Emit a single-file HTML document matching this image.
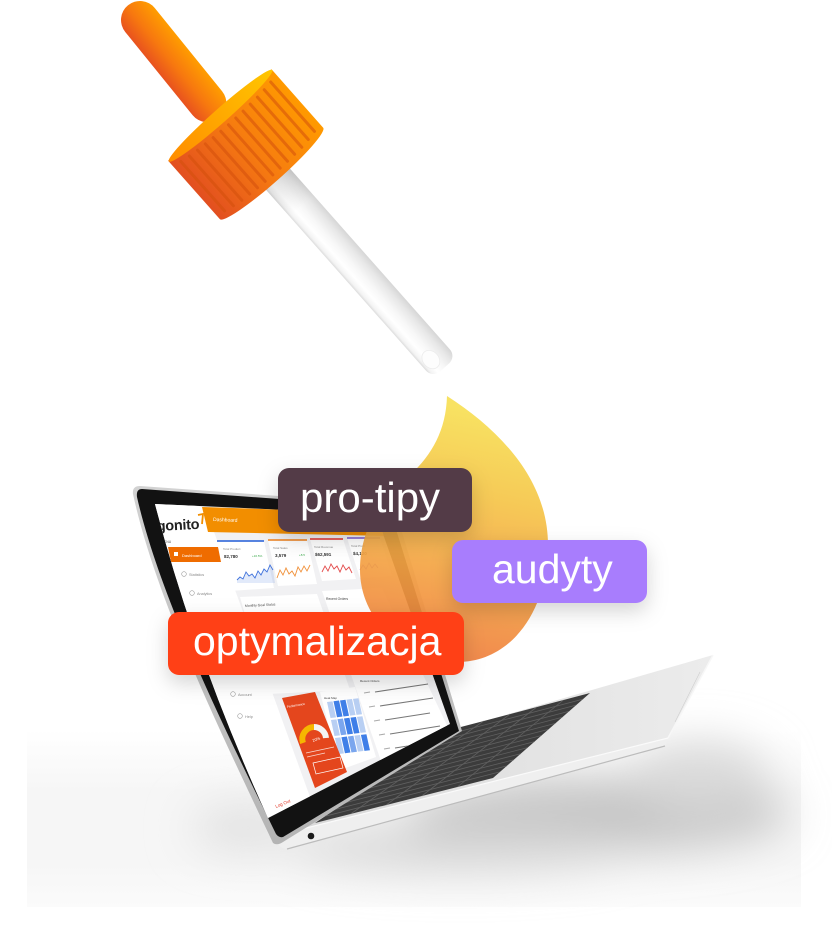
<!DOCTYPE html>
<html><head><meta charset="utf-8">
<style>
html,body{margin:0;padding:0;background:#fff;width:832px;height:948px;overflow:hidden;}
svg{display:block;}
text{font-family:"Liberation Sans",Arial,sans-serif;}
</style></head>
<body>
<svg width="832" height="948" viewBox="0 0 832 948" xmlns="http://www.w3.org/2000/svg">
<defs>
  <linearGradient id="bulbG" x1="0" y1="0" x2="0" y2="1">
    <stop offset="0" stop-color="#ff9d00"/>
    <stop offset="0.55" stop-color="#f7780f"/>
    <stop offset="1" stop-color="#e8521f"/>
  </linearGradient>
  <linearGradient id="capG" gradientUnits="userSpaceOnUse" x1="0" y1="-69" x2="0" y2="69">
    <stop offset="0" stop-color="#ff9a00"/>
    <stop offset="0.5" stop-color="#f67b10"/>
    <stop offset="1" stop-color="#e24f20"/>
  </linearGradient>
  <linearGradient id="capTop" gradientUnits="userSpaceOnUse" x1="0" y1="-69" x2="0" y2="69">
    <stop offset="0" stop-color="#ffc600"/>
    <stop offset="1" stop-color="#ff8c00"/>
  </linearGradient>
  <linearGradient id="tubeG" gradientUnits="userSpaceOnUse" x1="0" y1="-17" x2="0" y2="15">
    <stop offset="0" stop-color="#d6d6d6"/>
    <stop offset="0.22" stop-color="#e8e8e8"/>
    <stop offset="0.5" stop-color="#f7f7f7"/>
    <stop offset="0.75" stop-color="#ffffff"/>
    <stop offset="0.92" stop-color="#f3f3f3"/>
    <stop offset="1" stop-color="#dcdcdc"/>
  </linearGradient>
  <linearGradient id="tubeShade" gradientUnits="userSpaceOnUse" x1="78" y1="0" x2="125" y2="0">
    <stop offset="0" stop-color="#000" stop-opacity="0.12"/>
    <stop offset="1" stop-color="#000" stop-opacity="0"/>
  </linearGradient>
  <linearGradient id="dropG" x1="0.2" y1="0" x2="0.05" y2="1">
    <stop offset="0" stop-color="#f7df54"/>
    <stop offset="0.3" stop-color="#f5c548"/>
    <stop offset="0.62" stop-color="#f4a243"/>
    <stop offset="1" stop-color="#ee763c"/>
  </linearGradient>
  <linearGradient id="baseG" gradientUnits="userSpaceOnUse" x1="300" y1="0" x2="713" y2="0">
    <stop offset="0" stop-color="#d9d9d9"/>
    <stop offset="1" stop-color="#ececec"/>
  </linearGradient>
  <linearGradient id="fadeG" x1="0" y1="0" x2="0" y2="1">
    <stop offset="0" stop-color="#ffffff"/>
    <stop offset="0.35" stop-color="#f6f6f6"/>
    <stop offset="0.75" stop-color="#f6f6f6"/>
    <stop offset="1" stop-color="#fbfbfb"/>
  </linearGradient>
  <linearGradient id="lidG" x1="0" y1="0" x2="0" y2="1">
    <stop offset="0" stop-color="#d2d2d2"/>
    <stop offset="1" stop-color="#b4b4b4"/>
  </linearGradient>
  <filter id="blurBig" x="-50%" y="-150%" width="200%" height="400%">
    <feGaussianBlur stdDeviation="22"/>
  </filter>
  <filter id="tsh" x="-20%" y="-40%" width="140%" height="200%">
    <feDropShadow dx="0" dy="8" stdDeviation="10" flood-color="#000" flood-opacity="0.17"/>
  </filter>
  <clipPath id="scr">
    <path d="M155,504 L376,514 L450,724 L268,818 Q194,655 155,504 Z"/>
  </clipPath>
</defs>

<rect x="0" y="0" width="832" height="948" fill="#ffffff"/>

<!-- shadow area -->
<rect x="27" y="730" width="774" height="177" fill="url(#fadeG)"/>
<g filter="url(#blurBig)">
  <ellipse cx="600" cy="815" rx="190" ry="36" fill="#c4c4c4"/>
  <ellipse cx="460" cy="848" rx="170" ry="22" fill="#d6d6d6"/>
  <ellipse cx="700" cy="775" rx="70" ry="35" fill="#dadada"/>
  <ellipse cx="245" cy="828" rx="55" ry="22" fill="#e0e0e0"/>
</g>

<!-- laptop base -->
<polygon points="280,834 457,729 713,655 668,738" fill="url(#baseG)"/>
<path d="M279,835 L668,738 L665,746 L287,849 Q280,849 278,843 Z" fill="#efefef"/>
<line x1="287" y1="849" x2="665" y2="746" stroke="#bcbcbc" stroke-width="1.2"/>
<line x1="282" y1="834" x2="668" y2="738" stroke="#fafafa" stroke-width="1.2"/>
<line x1="713" y1="655" x2="668" y2="738" stroke="#f7f7f7" stroke-width="1.5"/>
<line x1="700" y1="672" x2="675" y2="722" stroke="#d0d0d0" stroke-width="0.6"/>
<circle cx="311" cy="836" r="3.3" fill="#1a1a1a"/>

<!-- keyboard -->
<polygon points="315,823 457,728 590,693 493,778" fill="#3c3c3c"/>
<g stroke="#6c6c6c" stroke-width="0.8" opacity="0.75">
  <line x1="350.6" y1="814" x2="483.6" y2="721"/>
  <line x1="386.2" y1="805" x2="510.2" y2="714"/>
  <line x1="421.8" y1="796" x2="536.8" y2="707"/>
  <line x1="457.4" y1="787" x2="563.4" y2="700"/>
  <line x1="325.1" y1="816.2" x2="499.9" y2="771.9"/>
  <line x1="335.3" y1="809.4" x2="506.9" y2="765.9"/>
  <line x1="345.4" y1="802.6" x2="513.8" y2="759.8"/>
  <line x1="355.6" y1="795.9" x2="520.7" y2="753.7"/>
  <line x1="365.7" y1="789.1" x2="527.6" y2="747.6"/>
  <line x1="375.9" y1="782.3" x2="534.6" y2="741.6"/>
  <line x1="386" y1="775.5" x2="541.5" y2="735.5"/>
  <line x1="396.1" y1="768.7" x2="548.4" y2="729.4"/>
  <line x1="406.3" y1="761.9" x2="555.4" y2="723.4"/>
  <line x1="416.4" y1="755.1" x2="562.3" y2="717.3"/>
  <line x1="426.6" y1="748.4" x2="569.2" y2="711.2"/>
  <line x1="436.7" y1="741.6" x2="576.1" y2="705.1"/>
  <line x1="446.9" y1="734.8" x2="583.1" y2="699.1"/>
</g>

<!-- lid -->
<path d="M140,486 L390,504 Q394,505 395,509 L462,731 L283,842 Q277,846 273,843 C222,735 156,600 133,494 Q132,486 140,486 Z" fill="url(#lidG)"/>
<path d="M142,489 L389,507 L459,731 L283,837 Q279,838 276,834 C225,730 160,598 137,497 Q136,489 142,489 Z" fill="#121212"/>

<!-- screen -->
<g clip-path="url(#scr)">
  <rect x="140" y="495" width="320" height="330" fill="#f1f1f3"/>
  <polygon points="140,498 205,507 322,830 250,830" fill="#ffffff"/>
  <polygon points="202,507 380,513 388,536 208,532" fill="#f28e00"/>
  <text x="213" y="521" font-size="5" fill="#fff" transform="rotate(2 213 521)">Dashboard</text>
  <text x="157" y="531" font-size="14.5" font-weight="bold" fill="#222" letter-spacing="-0.3" transform="rotate(-3 157 531)">gonito</text>
  <path d="M198,515 L203,514 L202,524" stroke="#f28e00" stroke-width="1.8" fill="none"/>
  <text x="161" y="543" font-size="3.5" fill="#555">MENU</text>
  <polygon points="168,547 218,547 221,562 171,562" fill="#ef6c00"/>
  <rect x="174" y="552" width="4" height="4" fill="#fff"/>
  <text x="182" y="557" font-size="4" fill="#fff">Dashboard</text>
  <circle cx="184" cy="574" r="2.3" stroke="#9a9a9a" stroke-width="0.6" fill="none"/>
  <text x="189" y="576" font-size="3.8" fill="#8a8a8a">Statistics</text>
  <circle cx="192" cy="593" r="2.3" stroke="#9a9a9a" stroke-width="0.6" fill="none"/>
  <text x="197" y="595" font-size="3.8" fill="#8a8a8a">Analytics</text>
  <circle cx="233" cy="694" r="2.3" stroke="#9a9a9a" stroke-width="0.6" fill="none"/>
  <text x="238" y="696" font-size="3.8" fill="#8a8a8a">Account</text>
  <circle cx="240" cy="716" r="2.3" stroke="#9a9a9a" stroke-width="0.6" fill="none"/>
  <text x="245" y="718" font-size="3.8" fill="#8a8a8a">Help</text>
  <text x="276" y="808" font-size="4.5" fill="#e23a2a" transform="rotate(-22 276 808)">Log Out</text>

  <!-- cards -->
  <polygon points="217,541 264,541 274,588 230,591" fill="#fff"/>
  <polygon points="268,540 307,540 317,584 278,586" fill="#fff"/>
  <polygon points="310,539 343,539 356,579 322,581" fill="#fff"/>
  <polygon points="347,538 380,538 392,576 360,578" fill="#fff"/>
  <line x1="217" y1="541" x2="264" y2="541" stroke="#3f72dc" stroke-width="1.8"/>
  <line x1="268" y1="540" x2="307" y2="540" stroke="#f0913a" stroke-width="1.8"/>
  <line x1="310" y1="539" x2="343" y2="539" stroke="#e34b4b" stroke-width="1.8"/>
  <line x1="347" y1="538" x2="380" y2="538" stroke="#8a6fd6" stroke-width="1.8"/>
  <g font-size="3" fill="#888">
    <text x="223" y="550">Total Product</text>
    <text x="273" y="549">Total Sales</text>
    <text x="314" y="548">Total Revenue</text>
    <text x="351" y="547">Total Profit</text>
  </g>
  <g font-size="4.5" font-weight="bold" fill="#333">
    <text x="224" y="558">82,780</text>
    <text x="275" y="557">3,579</text>
    <text x="315" y="556">$62,591</text>
    <text x="353" y="555">$4,120</text>
  </g>
  <text x="252" y="557" font-size="3" fill="#3aa84a">+16.5%</text>
  <text x="299" y="556" font-size="3" fill="#3aa84a">+8.5</text>
  <polygon points="237,583 237,580 240,577 243,579 246,572 249,576 252,574 255,578 258,571 261,575 264,569 267,572 270,565 273,570 275,583" fill="#3f72dc" opacity="0.15"/>
  <polyline points="237,580 240,577 243,579 246,572 249,576 252,574 255,578 258,571 261,575 264,569 267,572 270,565 273,570" fill="none" stroke="#3f72dc" stroke-width="0.9"/>
  <polyline points="277,578 280,570 283,575 286,568 289,574 292,571 295,576 298,567 301,572 304,566 307,571 310,565" fill="none" stroke="#f0913a" stroke-width="0.9"/>
  <polyline points="322,572 325,566 328,571 331,564 334,569 337,566 340,572 343,565 346,570 349,567 352,573" fill="none" stroke="#e34b4b" stroke-width="0.9"/>
  <polyline points="360,570 363,565 366,569 369,563 372,568 375,564 378,568" fill="none" stroke="#8a6fd6" stroke-width="0.9"/>

  <!-- row 2 panels -->
  <polygon points="240,597 317,594 350,690 268,694" fill="#fff"/>
  <text x="245" y="607" font-size="3.4" fill="#444" transform="rotate(-3 245 607)">Monthly Goal Status</text>
  <polygon points="322,591 382,588 452,736 381,761" fill="#fff"/>
  <text x="326" y="600" font-size="3.4" fill="#444">Recent Orders</text>
  <g stroke-width="1.1">
    <line x1="364" y1="693" x2="370" y2="692" stroke="#aaa"/>
    <line x1="375" y1="692" x2="428" y2="684" stroke="#777"/>
    <line x1="369" y1="707" x2="375" y2="706" stroke="#aaa"/>
    <line x1="380" y1="706" x2="433" y2="698" stroke="#777"/>
    <line x1="374" y1="721" x2="380" y2="720" stroke="#aaa"/>
    <line x1="385" y1="720" x2="430" y2="713" stroke="#777"/>
    <line x1="379" y1="735" x2="385" y2="734" stroke="#aaa"/>
    <line x1="390" y1="734" x2="440" y2="726" stroke="#777"/>
    <line x1="384" y1="749" x2="390" y2="748" stroke="#aaa"/>
    <line x1="395" y1="748" x2="440" y2="741" stroke="#777"/>
  </g>
  <text x="360" y="682" font-size="3" fill="#444">Recent Orders</text>

  <!-- heat map -->
  <polygon points="320,692 355,687 376,757 340,770" fill="#fff"/>
  <text x="324" y="699" font-size="3" fill="#444">Heat Map</text>
  <g transform="matrix(1,-0.12,0.22,1,327,702)">
    <rect x="0" y="0" width="5.5" height="16" fill="#b8cff3"/>
    <rect x="6.5" y="0" width="5.5" height="16" fill="#3f7fe8"/>
    <rect x="13" y="0" width="5.5" height="16" fill="#3f7fe8"/>
    <rect x="19.5" y="0" width="5.5" height="16" fill="#b8cff3"/>
    <rect x="26" y="0" width="5.5" height="16" fill="#b8cff3"/>
    <rect x="0" y="18" width="5.5" height="16" fill="#b8cff3"/>
    <rect x="6.5" y="18" width="5.5" height="16" fill="#7aa6ee"/>
    <rect x="13" y="18" width="5.5" height="16" fill="#3f7fe8"/>
    <rect x="19.5" y="18" width="5.5" height="16" fill="#3f7fe8"/>
    <rect x="26" y="18" width="5.5" height="16" fill="#b8cff3"/>
    <rect x="0" y="36" width="5.5" height="16" fill="#b8cff3"/>
    <rect x="6.5" y="36" width="5.5" height="16" fill="#3f7fe8"/>
    <rect x="13" y="36" width="5.5" height="16" fill="#7aa6ee"/>
    <rect x="19.5" y="36" width="5.5" height="16" fill="#b8cff3"/>
    <rect x="26" y="36" width="5.5" height="16" fill="#3f7fe8"/>
  </g>

  <!-- performance red card -->
  <polygon points="282,698 315,692 347,772 315,788" fill="#e4461d"/>
  <text x="287" y="708" font-size="3.2" fill="#fff" transform="rotate(-10 287 708)">Performance</text>
  <path d="M303,743 A12,12 0 0 1 314,727" stroke="#f6b600" stroke-width="6" fill="none"/>
  <path d="M314,727 A12,12 0 0 1 326,738" stroke="#f4f4f4" stroke-width="6" fill="none"/>
  <text x="313" y="742" font-size="4" fill="#fff" transform="rotate(-20 313 742)">20%</text>
  <line x1="306" y1="753" x2="334" y2="747" stroke="#fff" stroke-width="0.7" opacity="0.8"/>
  <line x1="307" y1="757" x2="325" y2="753" stroke="#fff" stroke-width="0.7" opacity="0.8"/>
  <polygon points="313,763 340,757 343,768 316,774" stroke="#fff" stroke-width="0.7" fill="none"/>
</g>

<!-- drop -->
<path d="M447,396 C500,430 548,480 548,545 C548,612 510,662 458,662 C405,662 360,620 360,570 C360,525 385,495 410,475 C432,455 446,430 447,396 Z" fill="url(#dropG)" opacity="0.92"/>

<!-- dropper: bulb -->
<g transform="translate(140,20) rotate(51)">
  <rect x="-19" y="-19" width="145" height="38" rx="19" fill="url(#bulbG)"/>
</g>
<!-- dropper: tube + cap -->
<g transform="translate(218.5,113.5) rotate(48.5)">
  <rect x="70" y="-17" width="270" height="32" rx="10" fill="url(#tubeG)"/>
  <rect x="78" y="-17" width="47" height="32" fill="url(#tubeShade)"/>
  <ellipse cx="325" cy="4" rx="10" ry="8" fill="#fdfdfd" stroke="#ececec" stroke-width="0.8"/>
  <path d="M2,-69 L80,-69 A9,69 0 0 1 80,69 L2,69 Z" fill="url(#capG)"/>
  <ellipse cx="3" cy="0" rx="7" ry="69" fill="url(#capTop)"/>
  <g stroke="#d4500c" stroke-width="3" stroke-linecap="round" opacity="0.55">
    <line x1="11" y1="-60" x2="77" y2="-60"/>
    <line x1="12.5" y1="-50" x2="79" y2="-50"/>
    <line x1="13.5" y1="-40" x2="80.5" y2="-40"/>
    <line x1="14" y1="-30" x2="81" y2="-30"/>
    <line x1="14.5" y1="-20" x2="81.5" y2="-20"/>
    <line x1="14.8" y1="-10" x2="81.8" y2="-10"/>
    <line x1="15" y1="0" x2="82" y2="0"/>
    <line x1="14.8" y1="10" x2="81.8" y2="10"/>
    <line x1="14.5" y1="20" x2="81.5" y2="20"/>
    <line x1="14" y1="30" x2="81" y2="30"/>
    <line x1="13.5" y1="40" x2="80.5" y2="40"/>
    <line x1="12.5" y1="50" x2="79" y2="50"/>
    <line x1="11" y1="60" x2="77" y2="60"/>
  </g>
</g>

<!-- tags -->
<rect x="278" y="468" width="194" height="64" rx="11" fill="#523b47" filter="url(#tsh)"/>
<text x="300" y="512" font-size="42" fill="#ffffff">pro-tipy</text>

<rect x="452" y="540" width="195" height="63" rx="11" fill="#a87dfd" filter="url(#tsh)"/>
<text x="492" y="583" font-size="41" fill="#ffffff">audyty</text>

<rect x="168" y="612" width="296" height="63" rx="11" fill="#ff3f16" filter="url(#tsh)"/>
<text x="193" y="655" font-size="41" fill="#ffffff">optymalizacja</text>
</svg>
</body></html>
